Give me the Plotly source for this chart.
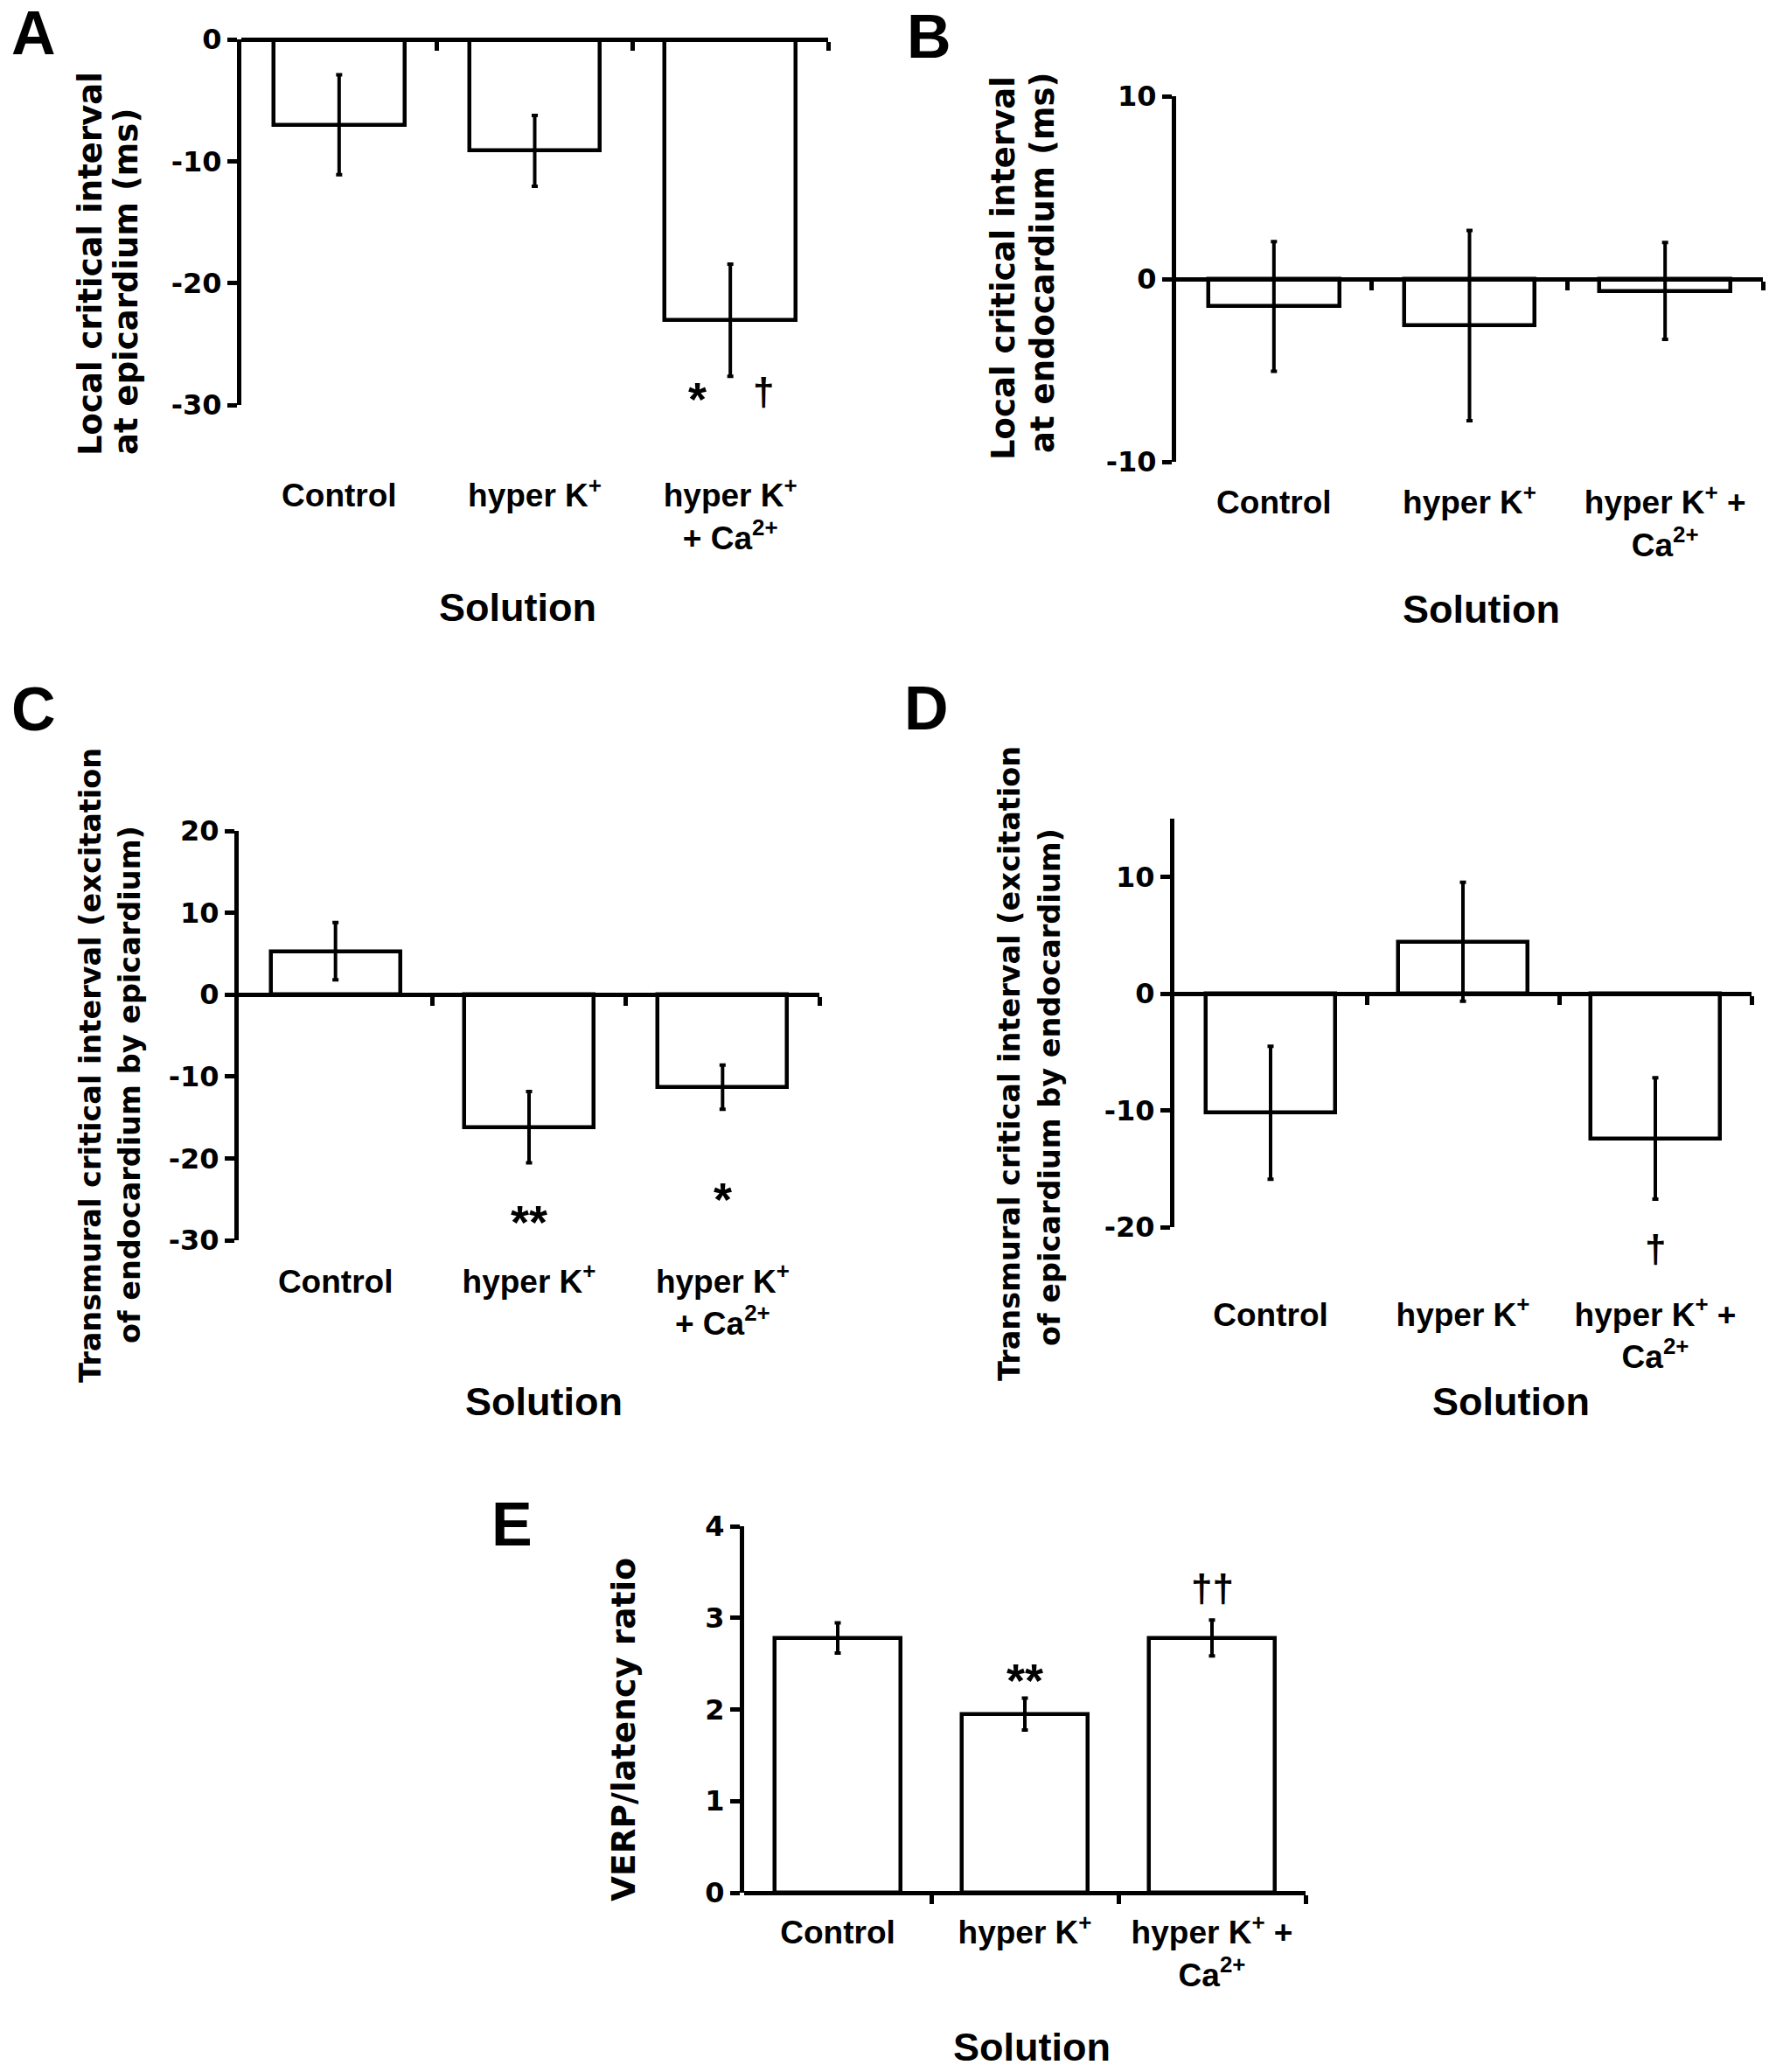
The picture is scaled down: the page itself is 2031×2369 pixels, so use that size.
import plotly.graph_objects as go

W, H = 2031, 2369

# ---------------- data ----------------
labels_ca_below = ["Control", "hyper K<sup>+</sup>", "hyper K<sup>+</sup><br>+ Ca<sup>2+</sup>"]
labels_ca_wrap = ["Control", "hyper K<sup>+</sup>", "hyper K<sup>+</sup> +<br>Ca<sup>2+</sup>"]

a_mean = [-7.0, -9.15, -23.05]
a_err = [4.1, 2.9, 4.6]
b_mean = [-1.5, -2.55, -0.65]
b_err = [3.55, 5.2, 2.65]
c_mean = [5.3, -16.2, -11.3]
c_err = [3.5, 4.35, 2.7]
d_mean = [-10.2, 4.45, -12.4]
d_err = [5.7, 5.1, 5.2]
e_mean = [2.78, 1.95, 2.78]
e_err = [0.165, 0.175, 0.195]

a_ticks = [-30, -20, -10, 0]
b_ticks = [-10, 0, 10]
c_ticks = [-30, -20, -10, 0, 10, 20]
d_ticks = [-20, -10, 0, 10]
e_ticks = [0, 1, 2, 3, 4]

a_title = ["Local critical interval", "at epicardium (ms)"]
b_title = ["Local critical interval", "at endocardium (ms)"]
c_title = ["Transmural critical interval (excitation", "of endocardium by epicardium)"]
d_title = ["Transmural critical interval (excitation", "of epicardium by endocardium)"]
e_title = ["VERP/latency ratio"]
x_title = "Solution"

# ---------------- styling / layout ----------------
SANS = "Liberation Sans, Arial, Helvetica, sans-serif"
WIDE = "DejaVu Sans, Verdana, sans-serif"
LW = 5


def fx(px):
    return px / W


def fy(py):
    return 1 - py / H


panels = [
    dict(letter="A", mean=a_mean, err=a_err, cats=labels_ca_below, ticks=a_ticks,
         yr=[-30, 0], box=(276, 947, 45, 463), standoff=487,
         letter_xy=(38, 38), sol_xy=(592, 695),
         title=a_title, title_xy=[(103, 302), (145, 322)], tsize=37,
         marks=[("*", 1.83, -29.5), ("†", 2.17, -28.9)]),
    dict(letter="B", mean=b_mean, err=b_err, cats=labels_ca_wrap, ticks=b_ticks,
         yr=[-10, 10], box=(1345, 2016, 110, 528), standoff=221,
         letter_xy=(1062, 42), sol_xy=(1694, 696),
         title=b_title, title_xy=[(1148, 307), (1193, 301)], tsize=37,
         marks=[]),
    dict(letter="C", mean=c_mean, err=c_err, cats=labels_ca_below, ticks=c_ticks,
         yr=[-30, 20], box=(273, 937, 950, 1418), standoff=293,
         letter_xy=(38, 811), sol_xy=(622, 1602),
         title=c_title, title_xy=[(103, 1218), (149, 1240)], tsize=33.5,
         marks=[("**", 1, -27.8), ("*", 2, -25.0)]),
    dict(letter="D", mean=d_mean, err=d_err, cats=labels_ca_wrap, ticks=d_ticks,
         yr=[-20, 15], box=(1343, 2003, 936, 1403), standoff=332,
         letter_xy=(1059, 810), sol_xy=(1728, 1602),
         title=d_title, title_xy=[(1154, 1216), (1200, 1243)], tsize=33.5,
         marks=[("†", 2, -21.8)]),
    dict(letter="E", mean=e_mean, err=e_err, cats=labels_ca_wrap, ticks=e_ticks,
         yr=[0, 4], box=(851, 1493, 1745, 2164), standoff=11,
         letter_xy=(585, 1743), sol_xy=(1180, 2340),
         title=e_title, title_xy=[(713, 1978)], tsize=37.5,
         marks=[("**", 1, 2.32), ("††", 2, 3.33)]),
]

fig = go.Figure()
annotations = []
layout = {}

for k, p in enumerate(panels, start=1):
    xa = "x" if k == 1 else f"x{k}"
    ya = "y" if k == 1 else f"y{k}"
    xkey = "xaxis" if k == 1 else f"xaxis{k}"
    ykey = "yaxis" if k == 1 else f"yaxis{k}"
    idx = list(range(len(p["cats"])))

    fig.add_trace(go.Bar(
        x=idx, y=p["mean"], width=0.67,
        marker=dict(color="white", line=dict(color="black", width=4.5)),
        error_y=dict(type="data", array=p["err"], visible=True,
                     color="black", thickness=4, width=3.5),
        xaxis=xa, yaxis=ya, showlegend=False, hoverinfo="skip",
    ))

    x0, x1, ytop, ybot = p["box"]
    dom_y = [fy(ybot), fy(ytop)]
    r0, r1 = p["yr"]
    zero_pos = dom_y[0] + (0 - r0) / (r1 - r0) * (dom_y[1] - dom_y[0])

    layout[xkey] = dict(
        domain=[fx(x0), fx(x1)], range=[-0.5, len(idx) - 0.5],
        anchor="free", position=zero_pos, automargin=False,
        showline=True, linewidth=LW, linecolor="black",
        tickmode="array", tickvals=idx, ticktext=p["cats"],
        ticks="", ticklen=0, ticklabelstandoff=p["standoff"],
        tickfont=dict(family=SANS, size=37, color="black", weight="bold"),
        minor=dict(tickmode="array", tickvals=[i + 0.5 for i in idx],
                   ticks="outside", ticklen=10, tickwidth=LW, tickcolor="black"),
        showgrid=False, zeroline=False, fixedrange=True,
    )
    layout[ykey] = dict(
        domain=dom_y, range=p["yr"], anchor=xa, automargin=False,
        showline=True, linewidth=LW, linecolor="black",
        tickmode="array", tickvals=p["ticks"], ticktext=[str(t) for t in p["ticks"]],
        ticks="outside", ticklen=11, tickwidth=LW, tickcolor="black",
        tickfont=dict(family=WIDE, size=32, color="black", weight="bold"),
        showgrid=False, zeroline=False, fixedrange=True,
    )

    # panel letter
    lx, ly = p["letter_xy"]
    annotations.append(dict(text=p["letter"], x=fx(lx), y=fy(ly), xref="paper", yref="paper",
                            xanchor="center", yanchor="middle", showarrow=False,
                            font=dict(family=SANS, size=70, color="black", weight="bold")))
    # x title
    sx, sy = p["sol_xy"]
    annotations.append(dict(text=x_title, x=fx(sx), y=fy(sy), xref="paper", yref="paper",
                            xanchor="center", yanchor="middle", showarrow=False,
                            font=dict(family=SANS, size=45, color="black", weight="bold")))
    # y title lines
    for line, (tx, ty) in zip(p["title"], p["title_xy"]):
        annotations.append(dict(text=line, x=fx(tx), y=fy(ty), xref="paper", yref="paper",
                                xanchor="center", yanchor="middle", textangle=-90,
                                showarrow=False,
                                font=dict(family=WIDE, size=p["tsize"], color="black", weight="bold")))
    # significance marks (y in data units, placed via the axis domain so that
    # marks below the axis range are still drawn)
    for txt, mx, my in p["marks"]:
        annotations.append(dict(text=txt, x=mx, y=(my - r0) / (r1 - r0),
                                xref=xa, yref=f"{ya} domain",
                                xanchor="center", yanchor="middle", showarrow=False,
                                font=dict(family=SANS, size=54 if "*" in txt else 44,
                                          color="black", weight="bold")))

fig.update_layout(
    width=W, height=H,
    margin=dict(l=0, r=0, t=0, b=0, pad=0, autoexpand=False),
    paper_bgcolor="white", plot_bgcolor="white",
    showlegend=False, bargap=0,
    annotations=annotations,
    **layout,
)

fig.write_html("out.html", config={"displayModeBar": False},
               post_script="document.body.style.margin='0';")
